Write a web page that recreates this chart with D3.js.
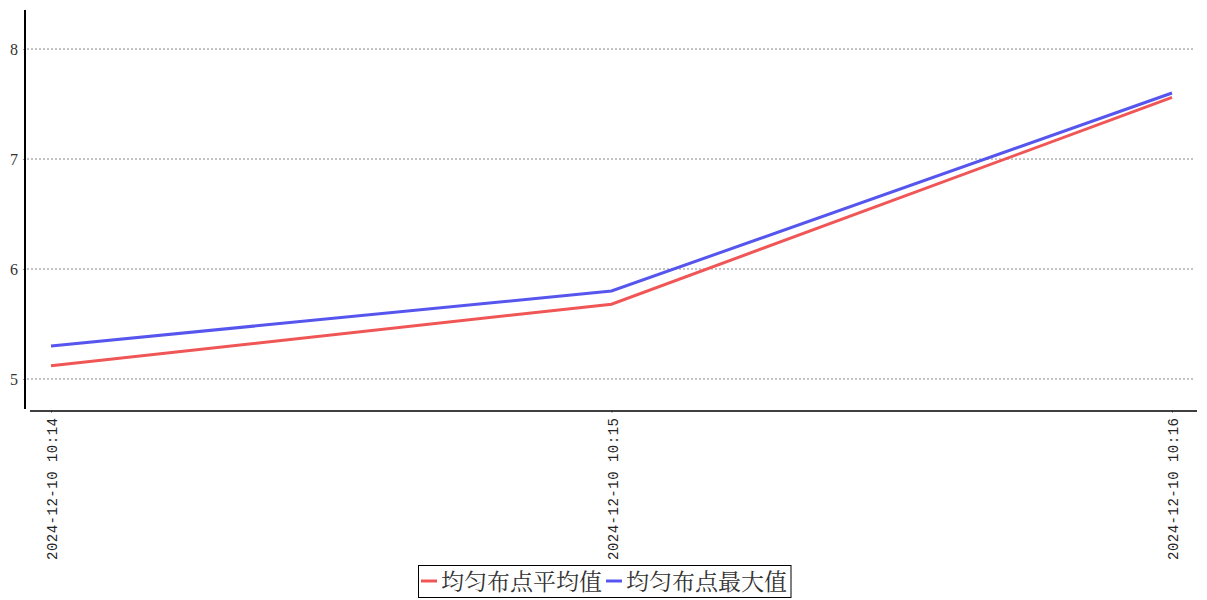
<!DOCTYPE html>
<html><head><meta charset="utf-8">
<script src="https://cdn.jsdelivr.net/npm/d3@7"></script>
<style>body{margin:0;background:#fff}</style>
</head><body>
<svg id="c" width="1207" height="600"></svg>
<script>
const categories = ["2024-12-10  10:14", "2024-12-10  10:15", "2024-12-10  10:16"];
const seriesNames = ["均匀布点平均值", "均匀布点最大值"];
const avgValues = [5.12, 5.68, 7.56];
const maxValues = [5.30, 5.80, 7.60];
const yTicks = [5, 6, 7, 8];
const colors = ["#f05656", "#5656ee"];

const svg = d3.select("#c");
const x = d3.scalePoint().domain(categories).range([51, 1172]);
const y = d3.scaleLinear().domain([4.727, 8.355]).range([409, 10]);
const tickFont = "'Liberation Mono', monospace";

// grid
svg.append("g").selectAll("line").data(yTicks).join("line")
  .attr("x1", 27).attr("x2", 1195)
  .attr("y1", d => y(d)).attr("y2", d => y(d))
  .attr("stroke", "#888").attr("stroke-width", 1).attr("stroke-dasharray", "2,2");

// y axis
const ya = svg.append("g").attr("transform", "translate(25,0)")
  .call(d3.axisLeft(y).tickValues(yTicks).tickSize(2).tickPadding(5).tickFormat(d3.format("d")));
ya.select(".domain").remove();
ya.selectAll("text").attr("font-family", "'Liberation Serif', serif").attr("font-size", 16).attr("fill", "#333");
ya.selectAll("line").attr("stroke", "#999");
svg.append("line").attr("x1", 25).attr("x2", 25).attr("y1", 10).attr("y2", 409)
  .attr("stroke", "#000").attr("stroke-width", 2);

// x axis
const xa = svg.append("g").attr("transform", "translate(0,411)")
  .call(d3.axisBottom(x).tickSize(2).tickPadding(0));
xa.select(".domain").remove();
xa.selectAll("line").attr("stroke", "#999");
xa.selectAll("text")
  .attr("font-family", tickFont).attr("font-size", 14).attr("fill", "#222")
  .attr("text-anchor", "end").attr("dy", "0.35em")
  .attr("textLength", 142).attr("lengthAdjust", "spacing")
  .attr("transform", "translate(1,7) rotate(-90)").attr("x", 0).attr("y", 0);
svg.append("line").attr("x1", 30).attr("x2", 1197).attr("y1", 411).attr("y2", 411)
  .attr("stroke", "#000").attr("stroke-width", 1.5);

// lines
const line = d3.line().x((d, i) => x(categories[i])).y(d => y(d));
[avgValues, maxValues].forEach((vals, k) => {
  svg.append("path").datum(vals).attr("d", line)
    .attr("fill", "none").attr("stroke", colors[k]).attr("stroke-width", 3);
});

// legend
const lg = svg.append("g");
const fs = 23;
let cx = 421;
seriesNames.forEach((n, k) => {
  lg.append("line").attr("x1", cx).attr("x2", cx + 16).attr("y1", 581).attr("y2", 581)
    .attr("stroke", colors[k]).attr("stroke-width", 3);
  const t = lg.append("text").attr("x", cx + 20).attr("y", 590)
    .attr("font-family", "'Noto Serif CJK SC','Noto Sans CJK SC',sans-serif")
    .attr("font-size", fs).attr("fill", "#333").text(n);
  cx = cx + 20 + t.node().getComputedTextLength() + 4;
});
lg.insert("rect", ":first-child").attr("x", 418.5).attr("y", 565.5)
  .attr("width", cx - 418.5).attr("height", 32)
  .attr("fill", "#fff").attr("stroke", "#000").attr("stroke-width", 1);
</script>
</body></html>
